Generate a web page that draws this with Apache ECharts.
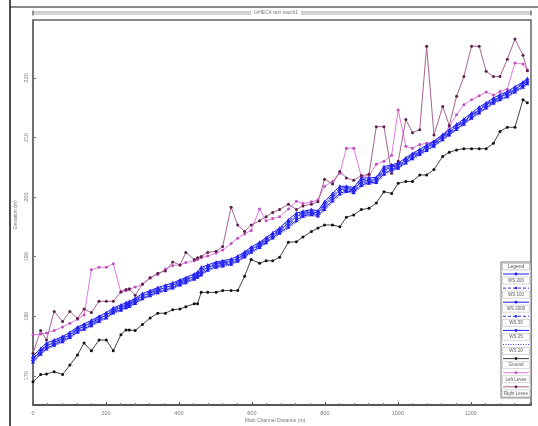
<!DOCTYPE html>
<html><head><meta charset="utf-8">
<script src="https://cdn.jsdelivr.net/npm/echarts@6/dist/echarts.min.js"></script>
<style>html,body{margin:0;padding:0;background:#fff}#c{width:538px;height:426px}</style>
</head><body><div id="c"></div>
<script>
const stations = [0,21,37,58,81,101,122,140,160,181,
201,220,241,255,264,280,300,321,342,363,
383,403,419,442,451,461,479,502,520,543,
561,580,598,621,639,657,676,700,722,740,
763,781,799,821,841,859,879,900,921,941,
962,983,1001,1022,1040,1060,1079,1099,1123,1141,
1161,1181,1202,1223,1242,1262,1280,1300,1321,1343,
1355];
const xTickLabels = [0,200,400,600,800,1000,1200];
const yTickLabels = [170,180,190,200,210,220];
const ground = [169.0,170.2,170.3,170.7,170.2,171.8,173.5,175.5,174.2,176.0,
176.0,174.2,176.9,177.7,177.7,177.6,178.6,179.7,180.5,180.5,
181.1,181.2,181.6,182.1,182.1,184.0,184.0,184.0,184.3,184.3,
184.3,186.7,189.5,188.9,189.3,189.3,189.9,192.4,192.5,193.3,
194.2,194.8,195.3,195.3,195.0,196.6,197.0,197.9,198.1,199.0,
200.9,200.6,202.3,202.6,202.6,203.7,203.7,204.6,206.8,207.5,
207.9,208.1,208.1,208.1,208.1,209.0,211.0,211.7,211.7,216.3,
215.8];
const leftLevee = [176.9,177.0,177.2,177.6,178.2,178.8,179.5,180.2,187.8,188.2,
188.2,188.8,184.0,184.3,184.5,184.9,185.3,186.5,187.0,187.9,
188.5,188.6,189.0,189.3,189.5,189.8,190.1,190.6,191.1,192.2,
193.1,193.8,194.4,198.0,196.0,196.4,196.7,198.0,199.3,198.9,
199.2,199.5,201.8,202.6,204.0,208.2,208.2,203.4,203.6,205.5,
206.0,207.0,214.6,208.5,208.2,208.8,209.0,209.3,210.2,211.8,
213.8,215.5,216.3,217.0,217.6,217.1,217.7,218.1,222.5,222.3,
221.3];
const rightLevee = [173.8,177.6,176.0,180.8,179.1,180.8,179.6,181.2,180.6,182.5,
182.5,182.5,184.1,184.5,184.6,183.5,185.4,186.4,187.2,187.6,
189.1,188.6,190.7,189.5,189.8,190.0,190.7,190.9,191.7,198.3,
195.3,194.2,195.3,196.0,196.7,197.4,197.9,198.8,197.9,198.5,
198.8,199.2,203.0,202.2,204.3,203.2,202.8,203.6,203.8,211.8,
211.8,204.0,206.0,213.0,210.8,211.3,225.3,210.4,215.2,212.0,
216.9,220.2,225.3,225.3,221.1,220.2,220.2,223.1,226.5,223.8,
221.2];
const ws200 = [173.3,174.6,175.5,176.0,176.6,177.3,178.2,178.7,179.3,180.0,
180.6,181.4,181.9,182.3,182.5,183.0,183.8,184.3,184.8,185.2,
185.6,186.1,186.5,187.1,187.4,188.2,188.6,189.1,189.3,189.6,
190.1,190.8,191.6,192.4,193.2,194.0,194.8,196.2,197.3,197.6,
197.9,197.7,199.2,200.6,201.8,201.8,201.6,203.2,203.2,203.3,
205.1,205.4,205.7,206.6,207.3,208.0,208.7,209.4,210.5,211.3,
212.2,213.1,214.1,215.1,215.8,216.6,217.2,217.7,218.5,219.3,
219.9];
const ws100 = [173.0,174.3,175.2,175.8,176.4,177.1,178.0,178.5,179.1,179.8,
180.4,181.2,181.7,182.1,182.3,182.8,183.6,184.1,184.6,185.0,
185.4,185.9,186.3,186.9,187.2,187.9,188.4,188.9,189.1,189.4,
189.9,190.6,191.4,192.2,193.0,193.8,194.6,195.9,197.0,197.4,
197.7,197.5,198.9,200.3,201.5,201.6,201.4,202.9,203.0,203.1,
204.8,205.2,205.5,206.4,207.1,207.8,208.5,209.2,210.3,211.1,
212.0,212.9,213.9,214.8,215.6,216.4,217.0,217.5,218.3,219.1,
219.7];
const ws2000 = [172.8,174.1,175.0,175.6,176.2,176.9,177.8,178.3,178.9,179.6,
180.2,181.0,181.5,181.9,182.1,182.6,183.4,183.9,184.4,184.8,
185.2,185.7,186.1,186.7,187.0,187.6,188.2,188.7,188.9,189.2,
189.7,190.4,191.2,192.0,192.8,193.6,194.4,195.6,196.7,197.2,
197.5,197.3,198.6,200.0,201.2,201.4,201.2,202.6,202.8,202.9,
204.5,205.0,205.3,206.2,206.9,207.6,208.3,209.0,210.1,210.9,
211.8,212.7,213.7,214.6,215.4,216.2,216.8,217.3,218.1,218.9,
219.5];
const ws50 = [172.6,173.9,174.8,175.4,176.0,176.7,177.6,178.1,178.7,179.4,
180.0,180.8,181.3,181.7,181.9,182.4,183.2,183.7,184.2,184.6,
185.0,185.5,185.9,186.5,186.8,187.3,188.0,188.5,188.7,189.0,
189.5,190.2,191.0,191.8,192.6,193.4,194.2,195.3,196.4,197.0,
197.3,197.1,198.3,199.7,200.9,201.2,201.0,202.3,202.6,202.7,
204.2,204.8,205.1,206.0,206.7,207.4,208.1,208.8,209.9,210.7,
211.6,212.5,213.5,214.4,215.2,216.0,216.6,217.1,217.9,218.7,
219.3];
const ws25 = [172.4,173.7,174.6,175.2,175.8,176.5,177.4,177.9,178.5,179.2,
179.8,180.6,181.1,181.5,181.7,182.2,183.0,183.5,184.0,184.4,
184.8,185.3,185.7,186.3,186.6,187.0,187.8,188.3,188.5,188.8,
189.3,190.0,190.8,191.6,192.4,193.2,194.0,195.0,196.1,196.8,
197.1,196.9,198.0,199.4,200.6,201.0,200.8,202.0,202.4,202.5,
203.9,204.6,204.9,205.8,206.5,207.2,207.9,208.6,209.7,210.5,
211.4,212.3,213.3,214.2,215.0,215.8,216.4,216.9,217.7,218.5,
219.1];
const ws20 = [172.2,173.5,174.4,175.0,175.6,176.3,177.2,177.7,178.3,179.0,
179.6,180.4,180.9,181.3,181.5,182.0,182.8,183.3,183.8,184.2,
184.6,185.1,185.5,186.1,186.4,186.8,187.6,188.1,188.3,188.6,
189.1,189.8,190.6,191.4,192.2,193.0,193.8,194.7,195.8,196.6,
196.9,196.7,197.7,199.1,200.3,200.8,200.6,201.7,202.2,202.3,
203.6,204.4,204.7,205.6,206.3,207.0,207.7,208.4,209.5,210.3,
211.2,212.1,213.1,214.0,214.8,215.6,216.2,216.7,217.5,218.3,
218.9];

const seriesDefs = [
  {name:'WS 200', vals:ws200, color:'#1c1cf2', lineType:'solid', symbol:'triangle'},
  {name:'WS 100', vals:ws100, color:'#2a2af0', lineType:'dashed', symbol:'circle'},
  {name:'WS 2000', vals:ws2000, color:'#1c1cf2', lineType:'solid', symbol:'triangle'},
  {name:'WS 50', vals:ws50, color:'#3030ee', lineType:'dashed', symbol:'circle'},
  {name:'WS 25', vals:ws25, color:'#1c1cf2', lineType:'solid', symbol:'triangle'},
  {name:'WS 20', vals:ws20, color:'#3a3aee', lineType:'dotted', symbol:'none'},
  {name:'Ground', vals:ground, color:'#444444', lineType:'solid', symbol:'circle', sym:'#111'},
  {name:'Left Levee', vals:leftLevee, color:'#e27ae2', lineType:'solid', symbol:'circle', sym:'#c050c0'},
  {name:'Right Levee', vals:rightLevee, color:'#a8628f', lineType:'solid', symbol:'circle', sym:'#5a2048'}
];

const series = seriesDefs.map(d => ({
  name: d.name, type: 'line',
  data: stations.map((x,i)=>[x, d.vals[i]]),
  symbol: d.symbol, symbolSize: d.symbol==='triangle'?4:3,
  showSymbol: d.symbol!=='none',
  lineStyle: {color: d.color, width: 1, type: d.lineType},
  itemStyle: {color: d.sym || d.color},
  animation: false, silent: true, z: d.name.indexOf('WS')===0 ? 3 : 2
}));

const lg = [];
const lx = 501, ly = 262, lw = 30, rowH = 14.1;
lg.push({type:'rect', shape:{x:lx,y:ly,width:lw,height:9+rowH*seriesDefs.length}, style:{fill:'#fff', stroke:'#777', lineWidth:1}});
lg.push({type:'rect', shape:{x:lx+1.5,y:ly+1.5,width:lw-3,height:6.5}, style:{fill:'#fff', stroke:'#aaa', lineWidth:0.6}});
lg.push({type:'text', x:lx+lw/2, y:ly+5, style:{text:'Legend', fontSize:5, fill:'#555', align:'center', verticalAlign:'middle', fontFamily:'Liberation Sans'}});
seriesDefs.forEach((d,i)=>{
  const y0 = ly + 9 + i*rowH;
  const dash = d.lineType==='dashed'?[3,2]:(d.lineType==='dotted'?[1,1.5]:null);
  lg.push({type:'line', shape:{x1:lx+2,y1:y0+3,x2:lx+lw-2,y2:y0+3}, style:{stroke:d.color, lineWidth:1, lineDash:dash}});
  if (d.symbol!=='none') lg.push({type:'circle', shape:{cx:lx+lw/2, cy:y0+3, r:1.4}, style:{fill:d.sym||d.color}});
  lg.push({type:'rect', shape:{x:lx+1.5,y:y0+6,width:lw-3,height:7}, style:{fill:'#fff', stroke:'#bbb', lineWidth:0.6}});
  lg.push({type:'text', x:lx+lw/2, y:y0+9.6, style:{text:d.name, fontSize:4.5, fill:'#555', align:'center', verticalAlign:'middle', fontFamily:'Liberation Sans'}});
});

const chart = echarts.init(document.getElementById('c'), null, {renderer:'canvas'});
chart.setOption({
  backgroundColor:'#fff',
  animation:false,
  grid:{left:33, right:7, top:20, bottom:21, show:true, borderColor:'#666', borderWidth:1.5, backgroundColor:'#fff'},
  xAxis:{type:'value', min:0, max:1365, interval:200,
    axisLine:{show:true, lineStyle:{color:'#444', width:1.5}},
    axisTick:{show:true, inside:true, length:3, lineStyle:{color:'#555'}},
    minorTick:{show:true, splitNumber:5, length:2, lineStyle:{color:'#777'}},
    axisLabel:{fontSize:5.5, color:'#777', margin:5, showMaxLabel:false, fontFamily:'Liberation Sans',
      formatter: v => String(Math.round(v))},
    splitLine:{show:false}},
  yAxis:{type:'value', min:165.1, max:229.7,
    axisLine:{show:true, lineStyle:{color:'#666', width:1.5}},
    axisTick:{show:true, inside:true, length:3, customValues:yTickLabels, lineStyle:{color:'#777'}},
    axisLabel:{fontSize:5.5, color:'#777', margin:4, rotate:90, customValues:yTickLabels, fontFamily:'Liberation Sans',
      formatter: v => String(Math.round(v))},
    splitLine:{show:false}},
  series: series,
  graphic:[
    {type:'line', shape:{x1:10,y1:0,x2:10,y2:426}, style:{stroke:'#111', lineWidth:1.5}},
    {type:'line', shape:{x1:10,y1:7,x2:538,y2:7}, style:{stroke:'#111', lineWidth:1}},
    {type:'line', shape:{x1:33,y1:12,x2:531,y2:12}, style:{stroke:'#888', lineWidth:0.8}},
    {type:'line', shape:{x1:33,y1:14,x2:531,y2:14}, style:{stroke:'#999', lineWidth:0.8}},
    {type:'line', shape:{x1:33,y1:10.5,x2:33,y2:15.5}, style:{stroke:'#555', lineWidth:1.2}},
    {type:'line', shape:{x1:531,y1:10.5,x2:531,y2:15.5}, style:{stroke:'#555', lineWidth:1.2}},
    {type:'text', x:276, y:13, style:{text:'InHEC4 rain reach1', fontSize:5, fill:'#777', align:'center', verticalAlign:'middle', backgroundColor:'#fff', padding:[0,3], fontFamily:'Liberation Sans'}},
    {type:'text', x:16, y:215, rotation:Math.PI/2, style:{text:'Elevation (m)', fontSize:5, fill:'#777', align:'center', verticalAlign:'middle', fontFamily:'Liberation Sans'}},
    {type:'text', x:275, y:421, style:{text:'Main Channel Distance (m)', fontSize:5, fill:'#777', align:'center', verticalAlign:'middle', fontFamily:'Liberation Sans'}},
    {type:'group', children: lg, z: 100}
  ]
});
</script></body></html>
